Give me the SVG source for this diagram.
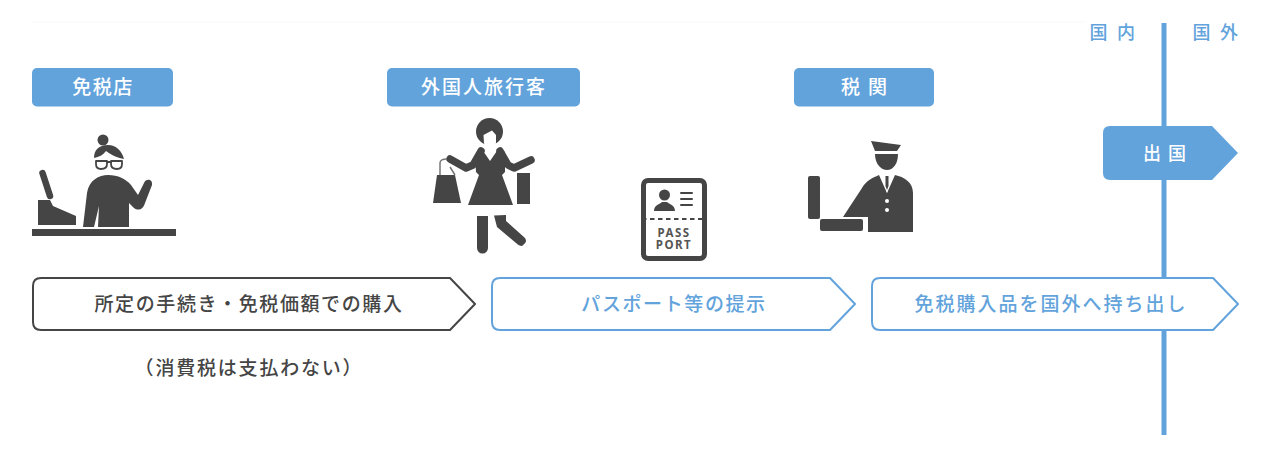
<svg xmlns="http://www.w3.org/2000/svg" width="1262" height="462" viewBox="0 0 1262 462">
<style>
text{font-family:"Noto Sans CJK JP","Noto Sans",sans-serif;text-anchor:middle}
.tag{fill:#62a3dc}
.tagt{fill:#fff;font-size:19px;font-weight:500}
.d{fill:#454545}
.w{fill:#fff}
.l{stroke:#454545;fill:none;stroke-linecap:round;stroke-linejoin:round}
.blue{font-size:18px;fill:#62a3dc;font-weight:500;letter-spacing:9.500px}
.ab{fill:#fff;stroke:#62a3dc;stroke-width:2;stroke-linejoin:round}
.pp{font-family:"Noto Sans","DejaVu Sans",sans-serif;font-size:11.500px;font-weight:700;letter-spacing:1.500px;fill:#555}
</style>
<rect width="1262" height="462" fill="#fff"/>
<line x1="32" y1="22" x2="1085" y2="22" stroke="#f8f8f8" stroke-width="1"/>
<g id="connectors">
<line x1="1164" y1="23" x2="1164" y2="435" stroke="#62a3dc" stroke-width="5"/>
</g>
<g id="border-labels">
<text class="blue" x="1117" y="39">国内</text>
<text class="blue" x="1220" y="39">国外</text>
</g>
<g id="shop">
<rect class="tag" x="32" y="68" width="141" height="38.500" rx="5"/>
<text class="tagt" x="103" y="94" style="letter-spacing:1.500px">免税店</text>
<rect class="d" x="32" y="229" width="144" height="7"/>
<path class="d" d="M38 200H50L53 206L76 216V225H38Z"/>
<path class="l" d="M42.500 173L50 196" stroke-width="6.500"/>
<path class="d" d="M83 227L87 193C89 180 99 175 108 175C118 175 126 179 131 185L138 195L144 183C146 178 153 179 152 185L145 203C143 210 138 211 134 208L129 203V227H98L99 206L94 227Z"/>
<circle class="d" cx="103" cy="140" r="5.500"/>
<path class="d" d="M94 158C94 150 99 145 108 145C116 145 122 151 124 159C118 158 113 156 106 151C103 155 99 157 94 158Z"/>
<path d="M96 161H107V164C107 168 104 169 101 169C98 169 96 167 96 164ZM111 161H122V164C122 167 120 169 117 169C114 169 111 168 111 164Z" fill="#fff" stroke="#454545" stroke-width="1.800" stroke-linejoin="round"/>
<path class="l" d="M107 162H111" stroke-width="1.800"/>
</g>
<g id="traveler">
<rect class="tag" x="387" y="68" width="193" height="38.500" rx="5"/>
<text class="tagt" x="484" y="94" style="letter-spacing:2px">外国人旅行客</text>
<circle class="d" cx="489.500" cy="131.500" r="13.500"/>
<path class="w" d="M483.500 135L492 130.500L496 135V143L494 148H486L484 143Z"/>
<path class="d" d="M481 148L490 161L499 148L505 152L505 172L502 175L513 205H468L479 175L476 172L475 155Z"/>
<path class="l" d="M450 159L466 168L473 165L481 151M531 160L514 168L508 165L500 151" stroke-width="7.500"/>
<path class="d" d="M433 203L437 175H455L461 203Z"/>
<path d="M440 175V163Q440 159 447 159M455 175L450 167" fill="none" stroke="#777" stroke-width="1.500"/>
<rect class="d" x="517" y="173" width="13" height="31"/>
<rect class="d" x="477" y="216" width="11" height="32"/>
<circle class="d" cx="482.500" cy="248" r="5.500"/>
<path class="d" d="M494 215.500L506 215V221L525 238C527 241 526 243 522 246C520 246 518 245 516 243L497 227Z"/>
</g>
<g id="passport">
<rect x="643.500" y="180.500" width="61" height="78" rx="4.500" fill="#fff" stroke="#454545" stroke-width="5"/>
<circle class="d" cx="664.500" cy="195" r="5.500"/>
<path class="d" d="M654 211C654 205 660 204 662 202H667C669 204 675 205 675 211Z"/>
<path class="l" d="M681 193H692M681 199H692M681 205H692" stroke-width="2"/>
<path d="M642 219H706" stroke="#454545" stroke-width="2" stroke-dasharray="4.500 3.500"/>
<text class="pp"><tspan x="674" y="237">PASS</tspan><tspan x="674" y="249">PORT</tspan></text>
</g>
<g id="customs">
<rect class="tag" x="794" y="68" width="140" height="38.500" rx="5"/>
<text class="tagt" x="868" y="94" style="letter-spacing:8px">税関</text>
<path class="d" d="M871 141L901 145L897 151H875Z"/>
<path class="d" d="M875 154H898C898 164 893 170 887 170C881 170 875 164 875 154Z"/>
<rect class="d" x="808" y="176" width="12" height="43" rx="2"/>
<rect class="d" x="820" y="219" width="43" height="12" rx="2"/>
<path class="d" d="M843 217L862 188C866 181 872 178 879 175L887 193L895 175C904 177 913 182 913 193V232H868V217Z"/>
<path class="w" d="M884 177H890V183L887 193L884 183Z"/>
<path class="d" d="M885.500 176H888.500V186L887 190L885.500 186Z"/>
<circle class="w" cx="887" cy="201" r="2"/>
<circle class="w" cx="887" cy="210" r="2"/>
</g>
<g id="departure">
<path d="M1110 126H1212L1238 153L1212 180H1110Q1103 180 1103 173V133Q1103 126 1110 126Z" fill="#62a3dc"/>
<text class="tagt" x="1168" y="160" style="font-size:18px;letter-spacing:7px">出国</text>
</g>
<g id="step1">
<path d="M41 278H450L475 304L450 330H41Q33 330 33 322V286Q33 278 41 278Z" fill="#fff" stroke="#454545" stroke-width="2" stroke-linejoin="round"/>
<text x="249" y="311" font-size="19" font-weight="500" fill="#454545" letter-spacing="1.600">所定の手続き・免税価額での購入</text>
</g>
<text id="note" x="249" y="375" font-size="19" font-weight="500" fill="#454545" letter-spacing="1.800">（消費税は支払わない）</text>
<g id="step2">
<path class="ab" d="M500 278H830L855 304L830 330H500Q492 330 492 322V286Q492 278 500 278Z"/>
<text x="674" y="311" font-size="19" font-weight="500" fill="#62a3dc" letter-spacing="1.600">パスポート等の提示</text>
</g>
<g id="step3">
<path class="ab" d="M880 278H1213L1238 304L1213 330H880Q872 330 872 322V286Q872 278 880 278Z"/>
<text x="1051" y="311" font-size="19" font-weight="500" fill="#62a3dc" letter-spacing="2">免税購入品を国外へ持ち出し</text>
</g>
</svg>
